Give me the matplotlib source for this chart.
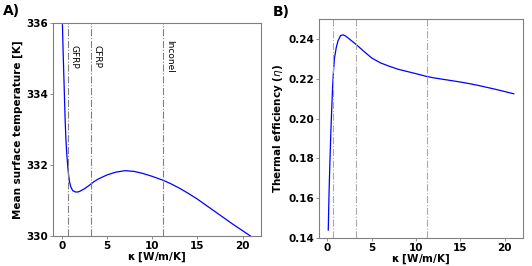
# plot.py
# mean surface temperature and thermal efficiency vs. conductivity
import numpy as np
import matplotlib.pyplot as plt

# data
kap_T = [0.07, 0.15, 0.26, 0.37, 0.45, 0.55, 0.65, 0.75, 0.85, 1.0, 1.2, 1.5, 1.8,
         2.0, 2.5, 3.0, 3.5, 4.0, 5.0, 6.0, 7.0, 8.0, 9.0, 10.0, 11.2, 12.0, 13.0,
         14.0, 15.0, 16.0, 17.0, 18.0, 19.0, 20.0, 21.0]
temp = [335.95, 335.15, 334.2, 333.26, 332.75, 332.31, 331.98, 331.72, 331.53, 331.38,
        331.28, 331.24, 331.24, 331.26, 331.33, 331.42, 331.52, 331.6, 331.72, 331.8,
        331.84, 331.82, 331.76, 331.68, 331.57, 331.48, 331.35, 331.2, 331.04, 330.86,
        330.68, 330.5, 330.32, 330.15, 329.98]

kap_eta = [0.11, 0.2, 0.3, 0.4, 0.5, 0.6, 0.7, 0.8, 1.0, 1.2, 1.5, 1.8, 2.1, 2.5, 3.0,
           3.5, 4.0, 4.5, 5.0, 6.0, 7.0, 8.0, 9.0, 10.0, 11.2, 12.0, 13.0, 14.0, 15.0,
           16.0, 17.0, 18.0, 19.0, 20.0, 21.0]
eta = [0.144, 0.163, 0.179, 0.193, 0.205, 0.216, 0.224, 0.230, 0.2355, 0.239, 0.2418,
       0.2421, 0.2414, 0.2400, 0.2382, 0.2363, 0.2343, 0.2324, 0.2305, 0.2280, 0.2263,
       0.2248, 0.2237, 0.2226, 0.2212, 0.2205, 0.2198, 0.2191, 0.2184, 0.2176, 0.2167,
       0.2157, 0.2147, 0.2136, 0.2125]

mat_names = ['GFRP', 'CFRP', 'Inconel']
mat_kap = [0.68, 3.2, 11.2]

# -----
fs = 7.5
fig = plt.figure(figsize=(5.32, 2.66), dpi=100)

# temperature
ax = fig.add_axes([0.0996, 0.1128, 0.391, 0.8008])
ax.plot(kap_T, temp, '-', color='blue', lw=0.9)
for ii in range(len(mat_kap)):
    ax.axvline(x=mat_kap[ii], linestyle='-.', color='gray', lw=0.8)
    ax.text(mat_kap[ii] + 0.2, 335.05, mat_names[ii], rotation=270,
            ha='left', va='center', fontsize=6.5)
ax.set_ylim(330, 336)
ax.set_yticks([330, 332, 334, 336])
ax.set_xticks([0, 5, 10, 15, 20])
ax.set_xlabel(r'$\mathbf{\kappa}$ [W/m/K]', fontsize=fs, fontweight='bold', labelpad=0)
ax.set_ylabel('Mean surface temperature [K]', fontsize=fs, fontweight='bold', labelpad=2)
fig.text(0.006, 0.944, 'A)', fontsize=10, fontweight='bold')

# efficiency
axe = fig.add_axes([0.5996, 0.105, 0.3835, 0.823])
axe.plot(kap_eta, eta, '-', color='blue', lw=0.9)
for ii in range(len(mat_kap)):
    axe.axvline(x=mat_kap[ii], linestyle='-.', color='darkgray', lw=0.8)
axe.set_ylim(0.14, 0.25)
axe.set_yticks([0.14, 0.16, 0.18, 0.20, 0.22, 0.24])
axe.set_xticks([0, 5, 10, 15, 20])
axe.set_xlabel(r'$\mathbf{\kappa}$ [W/m/K]', fontsize=fs, fontweight='bold', labelpad=0)
axe.set_ylabel(r'Thermal efficiency ($\eta$)', fontsize=fs, fontweight='bold', labelpad=2)
fig.text(0.513, 0.94, 'B)', fontsize=10, fontweight='bold')

for a in [ax, axe]:
    for lab in a.get_xticklabels() + a.get_yticklabels():
        lab.set_fontweight('bold')
    a.tick_params(labelsize=fs, length=2, width=0.6, pad=1.5, color='gray')
    for sp in a.spines.values():
        sp.set_color('gray')
        sp.set_linewidth(0.8)

fig.savefig('out.png', dpi=100)
